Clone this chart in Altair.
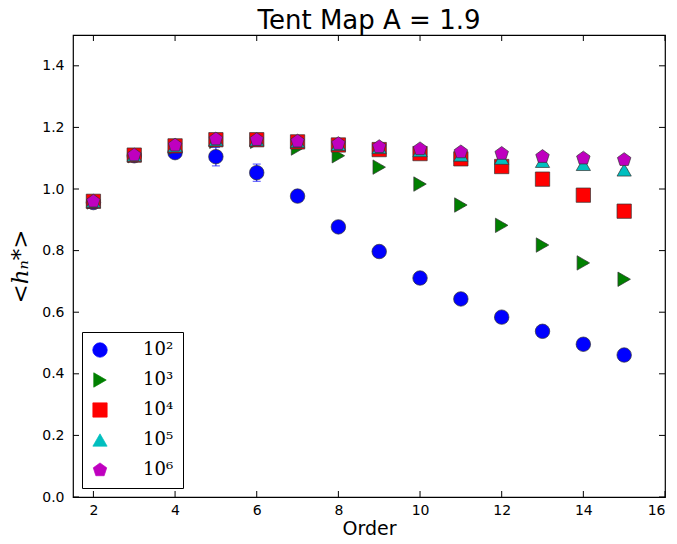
import altair as alt
import pandas as pd

orders = list(range(2, 16))
series_labels = ["10²", "10³", "10⁴", "10⁵", "10⁶"]
colors = ["#0000ff", "#008000", "#ff0000", "#00bfbf", "#bf00bf"]

vals_1e2 = [0.956, 1.108, 1.118, 1.105, 1.053, 0.977, 0.877, 0.797, 0.711, 0.643, 0.584, 0.538, 0.496, 0.461]
vals_1e3 = [0.958, 1.108, 1.135, 1.155, 1.155, 1.133, 1.108, 1.071, 1.016, 0.948, 0.882, 0.818, 0.760, 0.707]
vals_1e4 = [0.960, 1.110, 1.140, 1.160, 1.160, 1.153, 1.143, 1.128, 1.115, 1.098, 1.073, 1.032, 0.980, 0.928]
vals_1e5 = [0.960, 1.110, 1.140, 1.160, 1.160, 1.155, 1.145, 1.135, 1.125, 1.110, 1.100, 1.090, 1.080, 1.062]
vals_1e6 = [0.960, 1.110, 1.142, 1.162, 1.160, 1.155, 1.147, 1.137, 1.130, 1.120, 1.115, 1.105, 1.100, 1.095]

err_1e2 = [0.005, 0.005, 0.012, 0.03, 0.028, 0.01, 0.008, 0.007, 0.006, 0.006, 0.006, 0.005, 0.005, 0.005]
err_1e3 = [0.004] * 14
err_1e4 = [0.003] * 14
err_1e5 = [0.002] * 14
err_1e6 = [0.002] * 14

x_ticks = [2, 4, 6, 8, 10, 12, 14, 16]
y_ticks = [0.0, 0.2, 0.4, 0.6, 0.8, 1.0, 1.2, 1.4]

pentagon = "M0,-1 L0.951,-0.309 L0.588,0.809 L-0.588,0.809 L-0.951,-0.309 Z"
shapes = ["circle", "triangle-right", "square", "triangle-up", pentagon]
sizes = [210, 200, 190, 200, 230]

rows = []
all_vals = [vals_1e2, vals_1e3, vals_1e4, vals_1e5, vals_1e6]
all_errs = [err_1e2, err_1e3, err_1e4, err_1e5, err_1e6]
for i, (lab, vals, errs) in enumerate(zip(series_labels, all_vals, all_errs)):
    for o, v, e in zip(orders, vals, errs):
        rows.append({"order": o, "h": v, "err": e, "series": lab, "z": i})
df = pd.DataFrame(rows)

xscale = alt.Scale(domain=[1.5, 16], nice=False, zero=False)
yscale = alt.Scale(domain=[0, 1.5], nice=False, zero=False)

color = alt.Color("series:N", scale=alt.Scale(domain=series_labels, range=colors),
                  legend=alt.Legend(title=None, orient="bottom-left", offset=9,
                                    strokeColor="black", fillColor="white", padding=9,
                                    labelFont="DejaVu Serif", labelFontSize=18,
                                    labelColor="black", labelOffset=34,
                                    rowPadding=12, cornerRadius=0,
                                    symbolStrokeColor="#333", symbolStrokeWidth=0.7,
                                    symbolOpacity=1))
shape = alt.Shape("series:N", scale=alt.Scale(domain=series_labels, range=shapes), legend=alt.Legend(title=None))
size = alt.Size("series:N", scale=alt.Scale(domain=series_labels, range=sizes), legend=alt.Legend(title=None))

xax = alt.Axis(values=x_ticks, format="d", grid=False, ticks=False, domain=False,
               labelFont="DejaVu Sans", labelFontSize=14, labelColor="black", labelPadding=6,
               labelFlush=True,
               title="Order", titleFont="DejaVu Sans", titleFontSize=19, titleFontWeight="normal",
               titleColor="black", titlePadding=2)
yax = alt.Axis(values=y_ticks, format=".1f", grid=False, ticks=False, domain=False,
               labelFont="DejaVu Sans", labelFontSize=14, labelColor="black", labelPadding=9,
               title="<hₙ*>", titleFont="DejaVu Serif", titleFontSize=23, titleFontWeight="normal",
               titleFontStyle="italic", titleColor="black", titlePadding=9)

base = alt.Chart(df)

errbars = base.mark_errorbar(ticks=True, size=8, thickness=1).encode(
    x=alt.X("order:Q", scale=xscale, axis=xax),
    y=alt.Y("h:Q", scale=yscale, axis=yax),
    yError="err:Q",
    color=color,
)

points = base.mark_point(filled=True, opacity=1, stroke="#333", strokeWidth=0.7).encode(
    x=alt.X("order:Q", scale=xscale),
    y=alt.Y("h:Q", scale=yscale),
    color=color,
    shape=shape,
    size=size,
    order=alt.Order("z:Q"),
)

xt = pd.DataFrame({"t": x_ticks})
yt = pd.DataFrame({"t": y_ticks})
tick_style = dict(color="black", thickness=1, size=6, opacity=1)
xt_bottom = alt.Chart(xt).mark_tick(orient="vertical", yOffset=-3, **tick_style).encode(
    x=alt.X("t:Q", scale=xscale), y=alt.datum(0, scale=yscale))
xt_top = alt.Chart(xt).mark_tick(orient="vertical", yOffset=3, **tick_style).encode(
    x=alt.X("t:Q", scale=xscale), y=alt.datum(1.5, scale=yscale))
yt_left = alt.Chart(yt).mark_tick(orient="horizontal", xOffset=3, **tick_style).encode(
    y=alt.Y("t:Q", scale=yscale), x=alt.datum(1.5, scale=xscale))
yt_right = alt.Chart(yt).mark_tick(orient="horizontal", xOffset=-3, **tick_style).encode(
    y=alt.Y("t:Q", scale=yscale), x=alt.datum(16, scale=xscale))

chart = alt.layer(errbars, points, xt_bottom, xt_top, yt_left, yt_right).properties(
    width=592, height=462,
    title=alt.Title("Tent Map A = 1.9", font="DejaVu Sans", fontSize=26, fontWeight="normal",
                    color="black", offset=1.5),
    autosize=alt.AutoSizeParams(type="none"),
    padding={"left": 65, "top": 27, "right": 4, "bottom": 39},
    background="white",
).configure_view(stroke="black", strokeWidth=1.2)

chart.save("out.html", embed_options={"renderer": "svg", "actions": False})
